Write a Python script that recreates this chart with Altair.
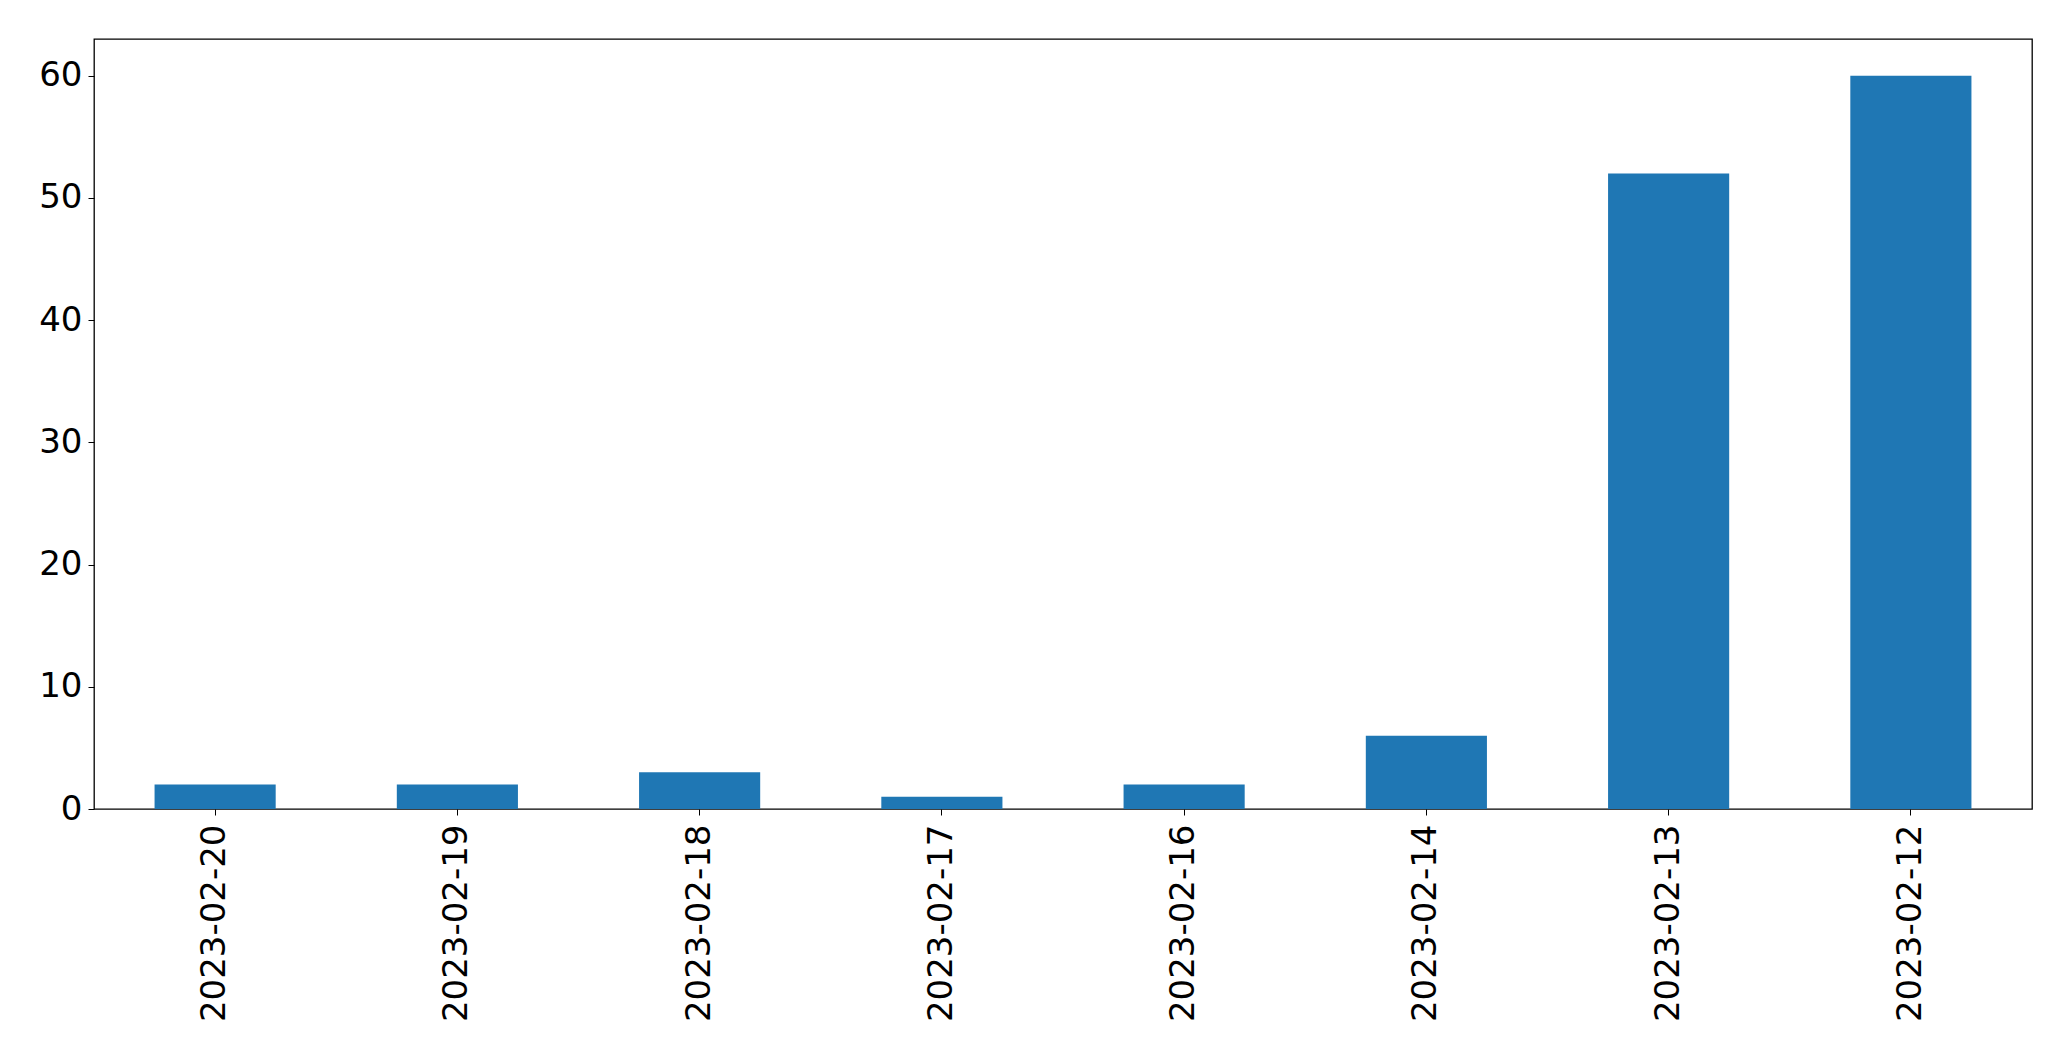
import altair as alt
import pandas as pd

dates = ["2023-02-20", "2023-02-19", "2023-02-18", "2023-02-17",
         "2023-02-16", "2023-02-14", "2023-02-13", "2023-02-12"]
counts = [2, 2, 3, 1, 2, 6, 52, 60]
y_ticks = [0, 10, 20, 30, 40, 50, 60]

df = pd.DataFrame({"date": dates, "count": counts})

chart = alt.Chart(df).mark_bar(color="#1f77b4").encode(
    x=alt.X("date:N", sort=dates, title=None,
            scale=alt.Scale(paddingInner=0.5, paddingOuter=0.25),
            axis=alt.Axis(labelAngle=-90, labelFont="DejaVu Sans", labelFontSize=34,
                          labelColor="black", tickColor="black", tickSize=6,
                          labelPadding=9, labelLimit=0, domain=False, grid=False)),
    y=alt.Y("count:Q", title=None,
            scale=alt.Scale(domain=[0, 63], nice=False, zero=True),
            axis=alt.Axis(values=y_ticks, labelFont="DejaVu Sans", labelFontSize=34,
                          labelColor="black", tickColor="black", tickSize=6,
                          labelPadding=6, domain=False, grid=False,
                          minExtent=86, maxExtent=86)),
).properties(
    width=1938, height=770,
    padding={"left": 0, "top": 31, "right": 10, "bottom": 10},
).configure_view(
    stroke="black", strokeWidth=1.3
)

chart.save("out.html", embed_options={"renderer": "svg", "actions": False})
